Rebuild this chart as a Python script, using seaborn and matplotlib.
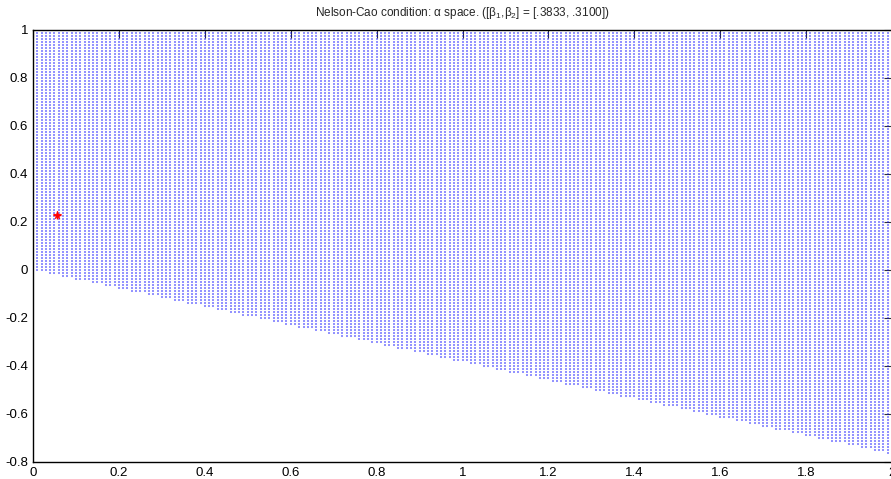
import numpy as np
import pandas as pd
import matplotlib
matplotlib.use("Agg")
import matplotlib.pyplot as plt
from matplotlib.ticker import FormatStrFormatter
import seaborn as sns

# condition parameters (from title)
BETA1 = 0.3833
BETA2 = 0.3100

# alpha grid
X_START, X_STOP, X_STEP = 0.0, 2.0, 0.01
Y_START, Y_STOP, Y_STEP = -0.8, 1.0, 0.0125

# current point (red star)
STAR_X = [0.056]
STAR_Y = [0.228]

X_TICKS = [0, 0.2, 0.4, 0.6, 0.8, 1.0, 1.2, 1.4, 1.6, 1.8, 2.0]
Y_TICKS = [-0.8, -0.6, -0.4, -0.2, 0, 0.2, 0.4, 0.6, 0.8, 1.0]

sns.set_style("white")
plt.rcParams["font.family"] = ["Liberation Sans", "DejaVu Sans"]
plt.rcParams["mathtext.default"] = "regular"

xs = np.arange(X_START, X_STOP + X_STEP / 2, X_STEP)
ys = np.arange(Y_START, Y_STOP + Y_STEP / 2, Y_STEP)
gx, gy = np.meshgrid(xs, ys)
grid = pd.DataFrame({"a1": gx.ravel(), "a2": gy.ravel()})
grid = grid[grid["a2"] >= -BETA1 * grid["a1"]]

fig = plt.figure(figsize=(8.91, 4.79), dpi=100)
ax = fig.add_axes([33 / 891, 17 / 479, 859 / 891, 432 / 479])

sns.scatterplot(data=grid, x="a1", y="a2", ax=ax, marker="s", s=1.0,
                color="#0000ff", linewidth=0, alpha=0.42)
sns.scatterplot(x=STAR_X, y=STAR_Y, ax=ax, marker="*", s=40,
                color="red", linewidth=0.3, edgecolor="red")
ax.plot(STAR_X, STAR_Y, "+", color="red", markersize=6, markeredgewidth=1)

ax.set_xlim(0, 2)
ax.set_ylim(-0.8, 1)
ax.set_xticks(X_TICKS)
ax.set_yticks(Y_TICKS)
ax.xaxis.set_major_formatter(FormatStrFormatter("%g"))
ax.yaxis.set_major_formatter(FormatStrFormatter("%g"))
ax.tick_params(direction="in", length=6, width=0.8, labelsize=9.5,
               top=True, right=True, colors="#333333", labelcolor="black")
for s in ax.spines.values():
    s.set_color("black")
    s.set_linewidth(1)
ax.set_xlabel("")
ax.set_ylabel("")
ax.set_title("Nelson-Cao condition: α space. ([β$_1$,β$_2$] = [.3833, .3100])",
             fontsize=8.5, pad=10)

fig.savefig("out.png", dpi=100)
